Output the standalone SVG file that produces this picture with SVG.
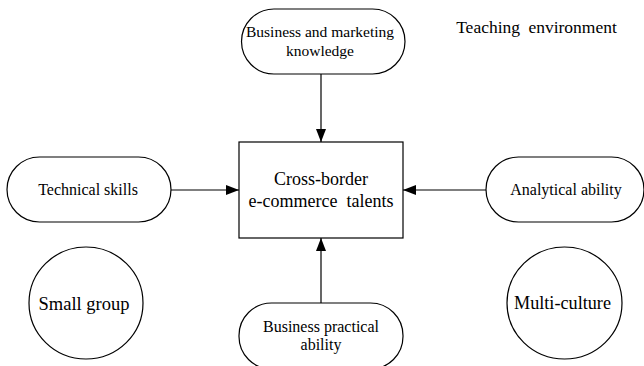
<svg xmlns="http://www.w3.org/2000/svg" width="644" height="366" viewBox="0 0 644 366" font-family="'Liberation Serif', 'DejaVu Serif', serif">
<style>
.shape{fill:#fff;stroke:#000;stroke-width:1.2}
.line{fill:none;stroke:#000;stroke-width:1.2}
text{fill:#000;text-anchor:middle}
</style>
<defs>
<marker id="arr" markerUnits="userSpaceOnUse" markerWidth="14" markerHeight="12" refX="13" refY="5" orient="auto">
<path d="M0,0 L13,5 L0,10 Z" fill="#000"/>
</marker>
</defs>
<rect width="644" height="366" fill="#fff"/>
<g id="connectors">
<line class="line" x1="321" y1="74" x2="321" y2="142" marker-end="url(#arr)"/>
<line class="line" x1="171" y1="190" x2="239" y2="190" marker-end="url(#arr)"/>
<line class="line" x1="486" y1="190" x2="403" y2="190" marker-end="url(#arr)"/>
<line class="line" x1="321" y1="303" x2="321" y2="238" marker-end="url(#arr)"/>
</g>
<g id="center">
<rect class="shape" x="239" y="142" width="164" height="96"/>
<text x="321" y="185" font-size="18" font-family="'Liberation Serif', serif">Cross-border</text>
<text x="321" y="207" font-size="18" word-spacing="4.5" font-family="'Liberation Serif', serif">e-commerce talents</text>
</g>
<g id="business-marketing">
<rect class="shape" x="241.5" y="9" width="163.5" height="65" rx="32.5"/>
<text x="320" y="37" font-size="15.5" font-family="'Liberation Serif', serif">Business and marketing</text>
<text x="320" y="56" font-size="15.5" font-family="'Liberation Serif', serif">knowledge</text>
</g>
<g id="technical">
<rect class="shape" x="7" y="157" width="164" height="65" rx="32.5"/>
<text x="88" y="195" font-size="16" font-family="'Liberation Serif', serif">Technical skills</text>
</g>
<g id="analytical">
<rect class="shape" x="486" y="157" width="158" height="65" rx="32.5"/>
<text x="566" y="195" font-size="16" font-family="'Liberation Serif', serif">Analytical ability</text>
</g>
<g id="practical">
<rect class="shape" x="239" y="303" width="164" height="66" rx="32.5"/>
<text x="321" y="332" font-size="16" font-family="'Liberation Serif', serif">Business practical</text>
<text x="321" y="350" font-size="16" font-family="'Liberation Serif', serif">ability</text>
</g>
<g id="small-group">
<ellipse class="shape" cx="86" cy="303" rx="57" ry="56"/>
<text x="84" y="310" font-size="18.5" font-family="'Liberation Serif', serif">Small group</text>
</g>
<g id="multi-culture">
<ellipse class="shape" cx="564.5" cy="303" rx="57.5" ry="56"/>
<text x="562.5" y="309" font-size="18.2" font-family="'Liberation Serif', serif">Multi-culture</text>
</g>
<g id="teaching-environment">
<text x="536.5" y="33" font-size="17.5" word-spacing="4" font-family="'Liberation Serif', serif">Teaching environment</text>
</g>
</svg>
